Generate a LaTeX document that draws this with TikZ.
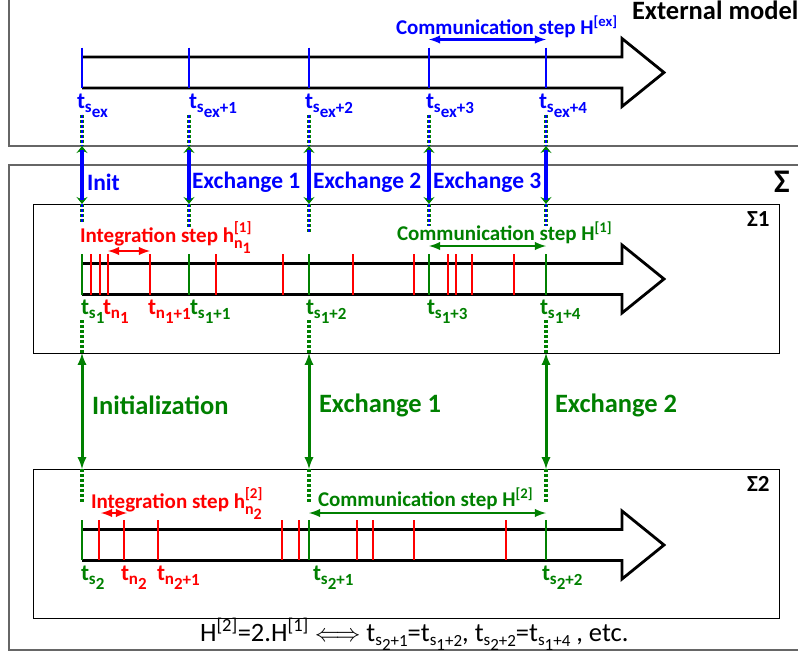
\documentclass[tikz,border=0pt]{standalone}
\usepackage{fontspec}
\setmainfont{Carlito}
\usepackage{tikz}
\usetikzlibrary{arrows}
\usetikzlibrary{arrows.meta}
\usetikzlibrary{positioning}
\tikzset{>=latex}
\definecolor{exblue}{RGB}{0,0,255}
\definecolor{sgreen}{RGB}{0,128,0}
\definecolor{hred}{RGB}{255,0,0}
\newcommand{\tlab}[3]{t\raisebox{-4pt}{\fontsize{17}{17}\selectfont #1\raisebox{-5pt}{#2}\raisebox{-1pt}{#3}}}
\newcommand{\hstep}[2]{h\rlap{\raisebox{10pt}{\fontsize{15}{15}\selectfont[#1]}}\raisebox{-6pt}{\fontsize{16}{16}\selectfont n\raisebox{-5pt}{#2}}}
\newcommand{\tarrow}[1]{\draw[timearrow] (82,#1-15.5) -- (622,#1-15.5) -- (622,#1-34) -- (664,#1) -- (622,#1+34) -- (622,#1+15.5) -- (82,#1+15.5);}
\tikzset{
  frame/.style={draw=black!60, line width=1.4pt},
  sysbox/.style={draw=black, line width=1pt},
  timearrow/.style={draw=black, line width=2.8pt, line join=miter},
  extick/.style={draw=exblue, line width=2.8pt},
  stick/.style={draw=sgreen, line width=2.6pt},
  ntick/.style={draw=hred, line width=2.6pt},
  exlink/.style={draw=exblue, line width=3.4pt, shorten <=4pt, shorten >=4pt},
  exhead/.style={draw=sgreen, line width=1.4pt, {Stealth[length=7pt,width=11pt,inset=2.5pt]}-{Stealth[length=7pt,width=11pt,inset=2.5pt]}},
  slink/.style={draw=sgreen, line width=3pt, <->},
  dotlink/.style={draw=sgreen, line width=3.4pt, dash pattern=on 3pt off 2pt},
  dotblue/.style={draw=exblue, line width=1.4pt, dash pattern=on 3pt off 2pt},
  steparrow/.style={line width=2.8pt, <->},
  lab/.style={anchor=base west, font=\fontsize{23}{26}\selectfont\bfseries},
  xlab/.style={anchor=west, font=\fontsize{23.5}{28}\selectfont\bfseries},
  ylab/.style={anchor=west, font=\fontsize{26.5}{30}\selectfont\bfseries},
  steplab/.style={anchor=base west, font=\fontsize{21}{24}\selectfont\bfseries}
}
\begin{document}
\begin{tikzpicture}[x=1pt,y=-1pt, every node/.style={inner sep=0pt, outer sep=0pt}]
\useasboundingbox (0,0) rectangle (798,654);

\draw[frame] (9,-10) -- (9,146) -- (810,146);
\draw[frame] (810,165) -- (9,165) -- (9,650) -- (810,650);
\draw[sysbox] (33,204) rectangle (779,353);
\draw[sysbox] (33,469) rectangle (779,618);
\coordinate (extbot) at (0,146);
\coordinate (s1top) at (0,204);
\coordinate (s1bot) at (0,353);
\coordinate (s2top) at (0,469);

\tarrow{72.5}
\tarrow{279}
\tarrow{545}

\foreach \x [count=\i] in {82,189,309,429,546} {
  \coordinate (e\i) at (\x,72.5);
  \coordinate (a\i) at (\x,279);
  \draw[extick] (\x,47.5) -- (\x,88);
}
\foreach \x in {91,100,108,150,216,283,353,414,448,456,472,514}
  \draw[ntick] (\x,254) -- (\x,295);
\foreach \x in {82,189,309,429,546}
  \draw[stick] (\x,254) -- (\x,295);
\coordinate (b1) at (82,545);
\coordinate (b2) at (309,545);
\coordinate (b3) at (546,545);
\foreach \x in {99,124,158,282,299,357,373,414,506}
  \draw[ntick] (\x,520) -- (\x,560);
\foreach \x in {82,309,546}
  \draw[stick] (\x,520) -- (\x,560);
\coordinate (n1) at (108,279);
\coordinate (n2) at (150,279);
\coordinate (m1) at (101,545);
\coordinate (m2) at (127,545);

\foreach \i in {1,...,5} {
  \draw[dotlink] ([yshift=-42pt]e\i) -- (e\i |- extbot);
  \draw[dotblue] ([yshift=-42pt]e\i) -- (e\i |- extbot);
  \draw[exhead] (e\i |- extbot) -- (a\i |- s1top);
  \draw[exlink] (e\i |- extbot) -- (a\i |- s1top);
}
\foreach \i/\l in {1/223,2/228,3/233,4/226,5/226} {
  \draw[dotlink] (a\i |- s1top) -- (a\i |- 0,\l);
  \draw[dotblue] (a\i |- s1top) -- (a\i |- 0,\l);
}
\foreach \i/\j in {1/1,3/2,5/3} {
  \draw[dotlink] (a\i |- 0,320) -- (a\i |- s1bot);
  \draw[slink] (a\i |- s1bot) -- (b\j |- s2top);
  \draw[dotlink] (b\j |- s2top) -- (b\j |- 0,502);
}

\draw[steparrow, exblue] ([yshift=33pt]e4) -- ([yshift=33pt]e5);
\draw[steparrow, sgreen] ([yshift=33pt]a4) -- ([yshift=33pt]a5);
\draw[steparrow, hred] ([yshift=28pt]n1) -- ([yshift=28pt]n2);
\draw[steparrow, sgreen] ([yshift=32pt]b2) -- ([yshift=32pt]b3);
\draw[steparrow, hred] ([yshift=32pt]m1) -- ([yshift=32pt]m2);

\node[anchor=base west, font=\fontsize{26.5}{30}\selectfont\bfseries] (extname) at (632,19) {External model};
\node[anchor=base west, font=\fontsize{33}{36}\selectfont\bfseries] (signame) at (774,192) {Σ};
\node[anchor=base west, font=\fontsize{23}{26}\selectfont\bfseries] (sig1) at (747,226) {Σ1};
\node[anchor=base west, font=\fontsize{23}{26}\selectfont\bfseries] (sig2) at (747,491) {Σ2};

\node[steplab, exblue] (hex) at (396,34) {Communication step H\textsuperscript{[ex]}};
\node[steplab, sgreen] (hs1) at (397,240) {Communication step H\textsuperscript{[1]}};
\node[steplab, sgreen] (hs2) at (318,506) {Communication step H\textsuperscript{[2]}};
\node[steplab, hred] (hn1) at (80,242) {Integration step \hstep{1}{1}};
\node[steplab, hred] (hn2) at (91,508) {Integration step \hstep{2}{2}};

\node[xlab, exblue] (init) at (87,182) {Init};
\node[xlab, exblue] (xch1) at (192,182) {Exchange 1};
\node[xlab, exblue] (xch2) at (313,182) {Exchange 2};
\node[xlab, exblue] (xch3) at (433,182) {Exchange 3};
\node[ylab, sgreen] (initial) at (92,405) {Initialization};
\node[ylab, sgreen] (ych1) at (319,405) {Exchange 1};
\node[ylab, sgreen] (ych2) at (555,405) {Exchange 2};

\node[lab, exblue] (te1) at (77,108) {\tlab{s}{ex}{}};
\node[lab, exblue] (te2) at (189,108) {\tlab{s}{ex}{+1}};
\node[lab, exblue] (te3) at (305,108) {\tlab{s}{ex}{+2}};
\node[lab, exblue] (te4) at (426,108) {\tlab{s}{ex}{+3}};
\node[lab, exblue] (te5) at (539,108) {\tlab{s}{ex}{+4}};

\node[lab, sgreen] (ta1) at (81,314) {\tlab{s}{1}{}};
\node[lab, hred] (tn1) at (103,314) {\tlab{n}{1}{}};
\node[lab, hred] (tn2) at (148,314) {\tlab{n}{1}{+1}};
\node[lab, sgreen] (ta2) at (190,314) {\tlab{s}{1}{+1}};
\node[lab, sgreen] (ta3) at (306,314) {\tlab{s}{1}{+2}};
\node[lab, sgreen] (ta4) at (427,314) {\tlab{s}{1}{+3}};
\node[lab, sgreen] (ta5) at (540,314) {\tlab{s}{1}{+4}};

\node[lab, sgreen] (tb1) at (81,580) {\tlab{s}{2}{}};
\node[lab, hred] (tm1) at (121,580) {\tlab{n}{2}{}};
\node[lab, hred] (tm2) at (157,580) {\tlab{n}{2}{+1}};
\node[lab, sgreen] (tb2) at (313,580) {\tlab{s}{2}{+1}};
\node[lab, sgreen] (tb3) at (542,580) {\tlab{s}{2}{+2}};

\node[anchor=base west, font=\fontsize{26.5}{30}\selectfont] (rel) at (200,641)
  {H\textsuperscript{[2]}=2.H\textsuperscript{[1]} $\Longleftrightarrow$ \tlab{s}{2}{+1}=\tlab{s}{1}{+2}, \tlab{s}{2}{+2}=\tlab{s}{1}{+4} , etc.};
\end{tikzpicture}
\end{document}
